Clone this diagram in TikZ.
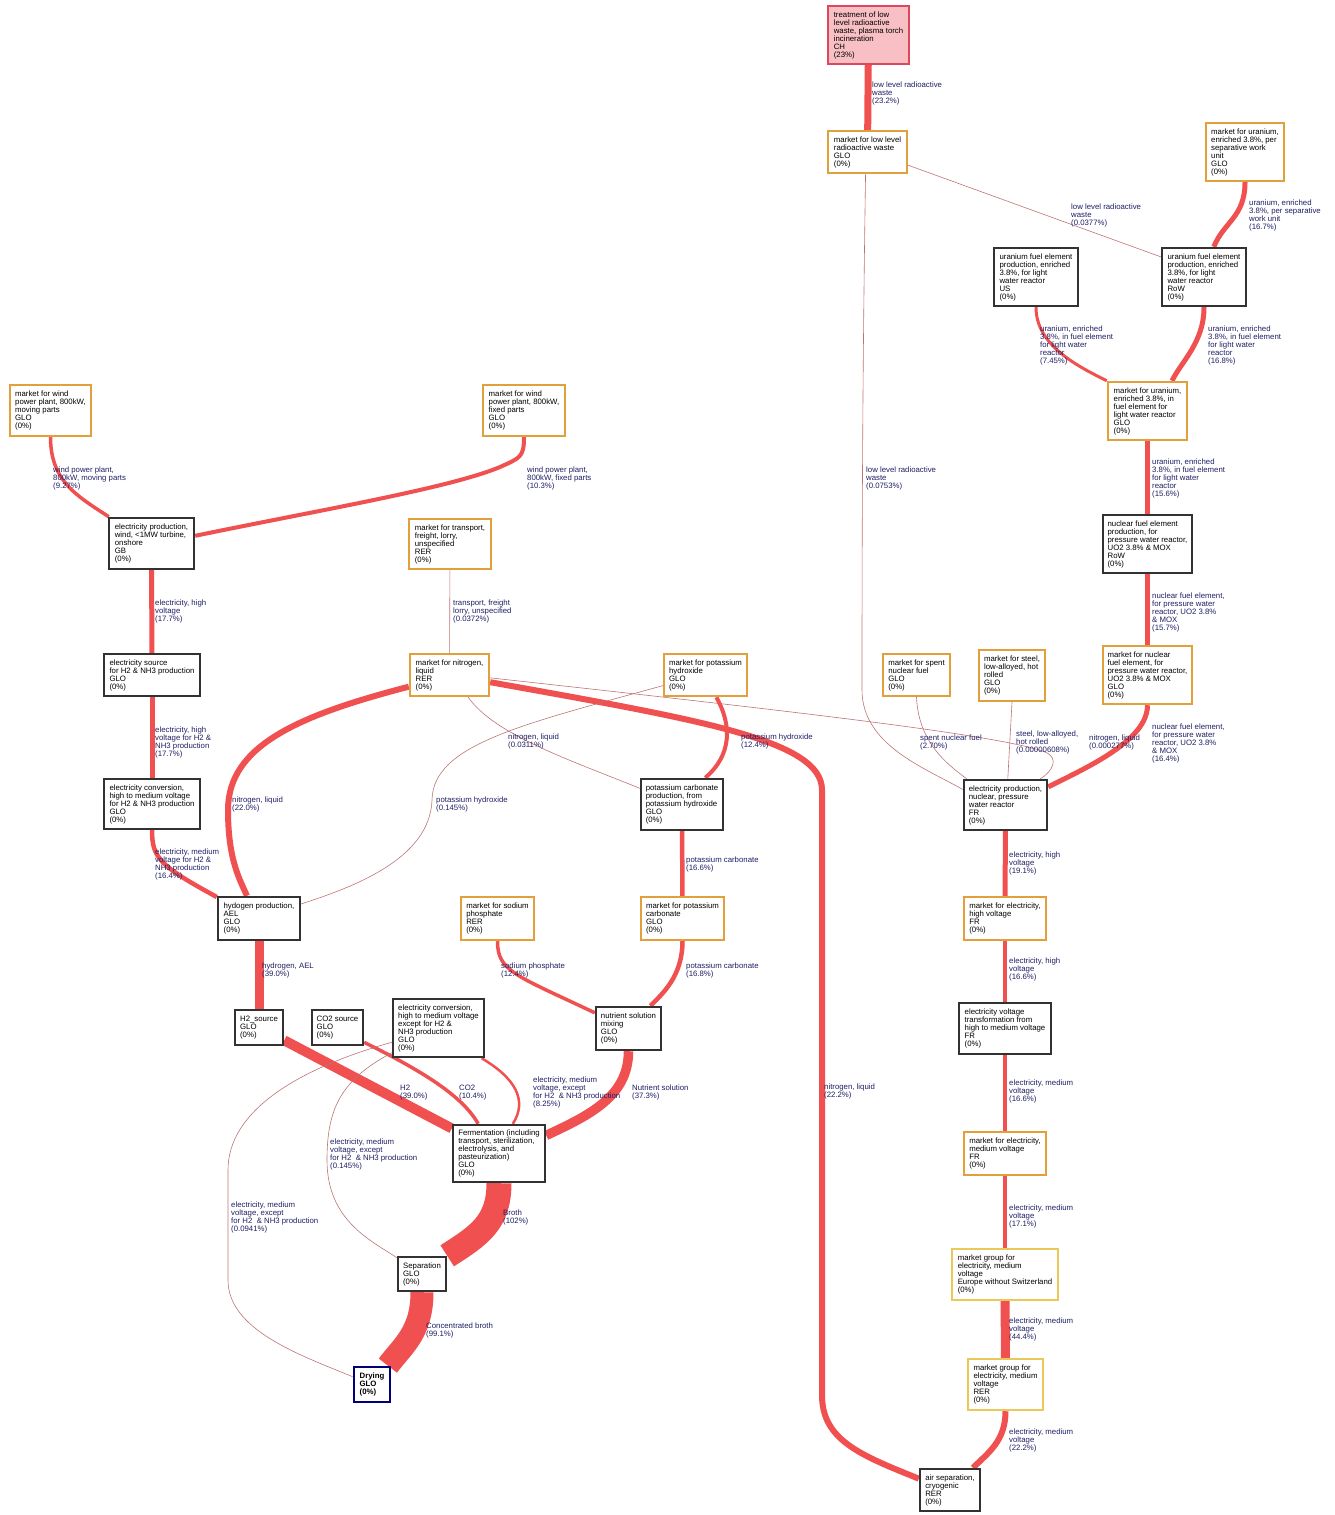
\documentclass[tikz,border=0pt]{standalone}
\usepackage{fontspec}
\setmainfont{Liberation Sans}
\usetikzlibrary{backgrounds}
\definecolor{flowred}{RGB}{240,80,80}
\definecolor{weakred}{RGB}{190,115,115}
\definecolor{lblblue}{RGB}{30,30,100}
\definecolor{actgray}{RGB}{50,50,50}
\definecolor{mktorange}{RGB}{225,160,60}
\definecolor{grpyellow}{RGB}{235,200,90}
\definecolor{treatfill}{RGB}{248,192,196}
\definecolor{treatdraw}{RGB}{222,72,92}
\definecolor{dryblue}{RGB}{0,0,120}

\begin{document}
\begin{tikzpicture}[x=1pt, y=-1pt,
  every node/.style={font=\fontsize{7.8}{8}\selectfont, align=left, inner sep=2pt},
  act/.style={draw=actgray, line width=2.4pt, fill=white},
  mkt/.style={draw=mktorange, line width=2.4pt, fill=white},
  grp/.style={draw=grpyellow, line width=2.4pt, fill=white},
  sz/.style 2 args={minimum width=#1pt, minimum height=#2pt},
  flow/.style={draw=flowred, line width=#1pt},
  weak/.style={draw=weakred, line width=0.6pt},
  lbl/.style={text=lblblue, anchor=north west, inner sep=0pt}]
\useasboundingbox (0,0) rectangle (1335,1515);

\node[act, fill=treatfill, draw=treatdraw, sz={81}{58}] (treat) at (868.5,35) {treatment of low\\level radioactive\\waste, plasma torch\\incineration\\CH\\(23\%)};
\node[mkt, sz={79}{42}] (mktLLRW) at (867.5,152) {market for low level\\radioactive waste\\GLO\\(0\%)};
\node[mkt, sz={78}{58}] (mktSWU) at (1245,152) {market for uranium,\\enriched 3.8\%, per\\separative work\\unit\\GLO\\(0\%)};
\node[act, sz={84}{58}] (ufeUS) at (1036,277) {uranium fuel element\\production, enriched\\3.8\%, for light\\water reactor\\US\\(0\%)};
\node[act, sz={84}{58}] (ufeRoW) at (1204,277) {uranium fuel element\\production, enriched\\3.8\%, for light\\water reactor\\RoW\\(0\%)};
\node[mkt, sz={79}{58}] (mktUfe) at (1147.5,411) {market for uranium,\\enriched 3.8\%, in\\fuel element for\\light water reactor\\GLO\\(0\%)};
\node[act, sz={89}{58}] (nfeRoW) at (1147.5,544) {nuclear fuel element\\production, for\\pressure water reactor,\\UO2 3.8\% \& MOX\\RoW\\(0\%)};
\node[mkt, sz={89}{58}] (mktNfe) at (1147.5,675) {market for nuclear\\fuel element, for\\pressure water reactor,\\UO2 3.8\% \& MOX\\GLO\\(0\%)};
\node[mkt, sz={67}{42}] (mktSpent) at (916.5,675) {market for spent\\nuclear fuel\\GLO\\(0\%)};
\node[mkt, sz={66}{51}] (mktSteel) at (1012,675.5) {market for steel,\\low-alloyed, hot\\rolled\\GLO\\(0\%)};
\node[act, sz={83}{50}] (elecNuc) at (1005.5,805) {electricity production,\\nuclear, pressure\\water reactor\\FR\\(0\%)};
\node[mkt, sz={82}{43}] (mktElHV) at (1005,918.5) {market for electricity,\\high voltage\\FR\\(0\%)};
\node[act, sz={92}{51}] (elTrans) at (1005,1028.5) {electricity voltage\\transformation from\\high to medium voltage\\FR\\(0\%)};
\node[mkt, sz={82}{43}] (mktElMV) at (1005,1153.5) {market for electricity,\\medium voltage\\FR\\(0\%)};
\node[grp, sz={106}{51}] (mgEu) at (1005,1274.5) {market group for\\electricity, medium\\voltage\\Europe without Switzerland\\(0\%)};
\node[grp, sz={75}{51}] (mgRER) at (1005.5,1384.5) {market group for\\electricity, medium\\voltage\\RER\\(0\%)};
\node[act, sz={60}{42}] (airSep) at (950,1490) {air separation,\\cryogenic\\RER\\(0\%)};

\node[mkt, sz={81}{51}] (mktWindM) at (50.5,410.5) {market for wind\\power plant, 800kW,\\moving parts\\GLO\\(0\%)};
\node[mkt, sz={82}{51}] (mktWindF) at (524,410.5) {market for wind\\power plant, 800kW,\\fixed parts\\GLO\\(0\%)};
\node[act, sz={85}{51}] (elWind) at (151.5,543.5) {electricity production,\\wind, <1MW turbine,\\onshore\\GB\\(0\%)};
\node[mkt, sz={82}{50}] (mktTrans) at (450,544) {market for transport,\\freight, lorry,\\unspecified\\RER\\(0\%)};
\node[act, sz={96}{42}] (elSrc) at (152,675) {electricity source\\for H2 \& NH3 production\\GLO\\(0\%)};
\node[mkt, sz={79}{42}] (mktN2) at (449.5,675) {market for nitrogen,\\liquid\\RER\\(0\%)};
\node[mkt, sz={83}{42}] (mktKOH) at (705.5,675) {market for potassium\\hydroxide\\GLO\\(0\%)};
\node[act, sz={96}{50}] (elConvH2) at (152,804) {electricity conversion,\\high to medium voltage\\for H2 \& NH3 production\\GLO\\(0\%)};
\node[act, sz={82}{51}] (K2CO3prod) at (682,804.5) {potassium carbonate\\production, from\\potassium hydroxide\\GLO\\(0\%)};
\node[act, sz={82}{43}] (H2prod) at (259,918.5) {hydogen production,\\AEL\\GLO\\(0\%)};
\node[mkt, sz={73}{43}] (mktNaP) at (497.5,918.5) {market for sodium\\phosphate\\RER\\(0\%)};
\node[mkt, sz={83}{43}] (mktK2CO3) at (682.5,918.5) {market for potassium\\carbonate\\GLO\\(0\%)};
\node[act, sz={48}{35}] (H2src) at (259,1027.5) {H2\_source\\GLO\\(0\%)};
\node[act, sz={51}{35}] (CO2src) at (337.5,1027.5) {CO2 source\\GLO\\(0\%)};
\node[act, sz={91}{58}] (elConvX) at (438.5,1028) {electricity conversion,\\high to medium voltage\\except for H2 \&\\NH3 production\\GLO\\(0\%)};
\node[act, sz={65}{43}] (nutMix) at (628.5,1028.5) {nutrient solution\\mixing\\GLO\\(0\%)};
\node[act, sz={92}{57}] (ferm) at (499,1153.5) {Fermentation (including\\transport, sterilization,\\electrolysis, and\\pasteurization)\\GLO\\(0\%)};
\node[act, sz={48}{34}] (sep) at (422,1274) {Separation\\GLO\\(0\%)};
\node[act, draw=dryblue, line width=2.8pt, sz={36}{35}, font=\fontsize{7.8}{8}\selectfont\bfseries] (drying) at (372,1384.5) {Drying\\GLO\\(0\%)};

\begin{scope}[on background layer]
\draw[flow=7] (treat) -- (mktLLRW);
\draw[weak] (mktLLRW.-18) -- (ufeRoW.155);
\draw[weak] (mktLLRW.-95) .. controls (862,400) and (862,600) .. (862,690) .. controls (862,745) and (925,768) .. (elecNuc.160);
\draw[flow=5] (mktSWU.south) .. controls +(0,35) and +(10,-25) .. (ufeRoW.72);
\draw[flow=3] (ufeUS.south) .. controls +(0,38) and +(-30,-15) .. (mktUfe.north west);
\draw[flow=5] (ufeRoW.south) .. controls +(0,35) and +(10,-20) .. (mktUfe.51);
\draw[flow=4.5] (mktUfe) -- (nfeRoW);
\draw[flow=4.5] (nfeRoW) -- (mktNfe);
\draw[flow=5] (mktNfe.south) .. controls +(0,35) and +(40,-20) .. (elecNuc.23);
\draw[weak] (mktSpent.south) .. controls +(2,45) and +(-20,-15) .. (elecNuc.146);
\draw[weak] (mktSteel.south) -- (elecNuc.85);
\draw[weak] (mktN2.-4) .. controls (800,712) and (1000,735) .. (1045,752) .. controls (1060,758) and (1052,772) .. (elecNuc.37);
\draw[flow=5] (elecNuc) -- (mktElHV);
\draw[flow=4.5] (mktElHV) -- (elTrans);
\draw[flow=4.5] (elTrans) -- (mktElMV);
\draw[flow=4.5] (mktElMV) -- (mgEu);
\draw[flow=9] (mgEu) -- (mgRER);
\draw[flow=6] (mgRER.south) .. controls +(0,30) and +(15,-15) .. (airSep.44);
\draw[flow=6] (airSep.160) .. controls (860,1455) and (822,1440) .. (822,1395) -- (822,790) .. controls (822,740) and (700,720) .. (mktN2.-10);
\draw[flow=6] (mktN2.196) .. controls (300,715) and (228,745) .. (228,810) .. controls (228,860) and (240,880) .. (H2prod.118);
\draw[weak] (mktN2.-50) .. controls (495,735) and (570,760) .. (K2CO3prod.159);
\draw[flow=4] (mktKOH.-64) .. controls (732,725) and (732,755) .. (K2CO3prod.49);
\draw[weak] (mktKOH.194) .. controls (520,725) and (433,745) .. (432,800) .. controls (430,860) and (350,888) .. (H2prod.19);
\draw[weak] (mktTrans) -- (mktN2);
\draw[flow=3.5] (mktWindM.south) .. controls +(0,45) and +(-30,-20) .. (elWind.148);
\draw[flow=4] (mktWindF.south) .. controls +(0,20) and (520,458) .. (500,467) .. controls (450,488) and (320,510) .. (elWind.10);
\draw[flow=5] (elWind) -- (elSrc);
\draw[flow=5] (elSrc) -- (elConvH2);
\draw[flow=4.5] (elConvH2.south) .. controls +(0,28) and (160,866) .. (H2prod.153);
\draw[flow=4.5] (K2CO3prod) -- (mktK2CO3);
\draw[flow=4.5] (mktK2CO3.south) .. controls +(0,35) and +(12,-12) .. (nutMix.46);
\draw[flow=3.5] (mktNaP.south) .. controls +(0,30) and (515,975) .. (nutMix.155);
\draw[flow=9] (H2prod) -- (H2src);
\draw[flow=10] (H2src.-27) -- (ferm.152);
\draw[flow=3.5] (CO2src.-29) .. controls (420,1070) and (462,1095) .. (ferm.125);
\draw[flow=2.5] (elConvX.-35) .. controls (515,1078) and (528,1100) .. (ferm.65);
\draw[flow=9.5] (nutMix.south) .. controls +(0,45) and (590,1115) .. (ferm.21);
\draw[weak] (elConvX.208) .. controls (340,1080) and (327,1110) .. (327,1160) .. controls (327,1220) and (370,1240) .. (sep.147);
\draw[weak] (elConvX.197) .. controls (300,1068) and (228,1110) .. (228,1170) -- (228,1280) .. controls (228,1330) and (300,1355) .. (drying.158);
\draw[flow=25] (ferm.south) .. controls +(0,40) and (478,1236) .. (sep.north east);
\draw[flow=23] (sep.south) .. controls +(0,40) and +(15,-20) .. (drying.50);
\end{scope}

\node[lbl] (tWasteA) at (872,82) {low level radioactive\\waste\\(23.2\%)};
\node[lbl] (tWasteB) at (1071,204) {low level radioactive\\waste\\(0.0377\%)};
\node[lbl] (tWasteC) at (866,467) {low level radioactive\\waste\\(0.0753\%)};
\node[lbl] (tSWU) at (1249,200) {uranium, enriched\\3.8\%, per separative\\work unit\\(16.7\%)};
\node[lbl] (tUfeA) at (1040,326) {uranium, enriched\\3.8\%, in fuel element\\for light water\\reactor\\(7.45\%)};
\node[lbl] (tUfeB) at (1208,326) {uranium, enriched\\3.8\%, in fuel element\\for light water\\reactor\\(16.8\%)};
\node[lbl] (tUfeC) at (1152,459) {uranium, enriched\\3.8\%, in fuel element\\for light water\\reactor\\(15.6\%)};
\node[lbl] (tNfeA) at (1152,593) {nuclear fuel element,\\for pressure water\\reactor, UO2 3.8\%\\\& MOX\\(15.7\%)};
\node[lbl] (tNfeB) at (1152,724) {nuclear fuel element,\\for pressure water\\reactor, UO2 3.8\%\\\& MOX\\(16.4\%)};
\node[lbl] (tSpent) at (920,735) {spent nuclear fuel\\(2.70\%)};
\node[lbl] (tSteel) at (1016,731) {steel, low-alloyed,\\hot rolled\\(0.00000608\%)};
\node[lbl] (tN2nuc) at (1089,735) {nitrogen, liquid\\(0.000277\%)};
\node[lbl] (tElA) at (1009,852) {electricity, high\\voltage\\(19.1\%)};
\node[lbl] (tElB) at (1009,958) {electricity, high\\voltage\\(16.6\%)};
\node[lbl] (tElC) at (1009,1080) {electricity, medium\\voltage\\(16.6\%)};
\node[lbl] (tElD) at (1009,1205) {electricity, medium\\voltage\\(17.1\%)};
\node[lbl] (tElE) at (1009,1318) {electricity, medium\\voltage\\(44.4\%)};
\node[lbl] (tElF) at (1009,1429) {electricity, medium\\voltage\\(22.2\%)};
\node[lbl] (tN2air) at (824,1084) {nitrogen, liquid\\(22.2\%)};
\node[lbl] (tWindM) at (53,467) {wind power plant,\\800kW, moving parts\\(9.27\%)};
\node[lbl] (tWindF) at (527,467) {wind power plant,\\800kW, fixed parts\\(10.3\%)};
\node[lbl] (tTrans) at (453,600) {transport, freight\\lorry, unspecified\\(0.0372\%)};
\node[lbl] (tWindEl) at (155,600) {electricity, high\\voltage\\(17.7\%)};
\node[lbl] (tSrcEl) at (155,727) {electricity, high\\voltage for H2 \&\\NH3 production\\(17.7\%)};
\node[lbl] (tConvEl) at (155,849) {electricity, medium\\voltage for H2 \&\\NH3 production\\(16.4\%)};
\node[lbl] (tN2H2) at (232,797) {nitrogen, liquid\\(22.0\%)};
\node[lbl] (tKOHa) at (436,797) {potassium hydroxide\\(0.145\%)};
\node[lbl] (tN2K) at (508,734) {nitrogen, liquid\\(0.0311\%)};
\node[lbl] (tKOHb) at (741,734) {potassium hydroxide\\(12.4\%)};
\node[lbl] (tK2CO3a) at (686,857) {potassium carbonate\\(16.6\%)};
\node[lbl] (tK2CO3b) at (686,963) {potassium carbonate\\(16.8\%)};
\node[lbl] (tNaP) at (501,963) {sodium phosphate\\(12.4\%)};
\node[lbl] (tAEL) at (262,963) {hydrogen, AEL\\(39.0\%)};
\node[lbl] (tH2) at (400,1085) {H2\\(39.0\%)};
\node[lbl] (tCO2) at (459,1085) {CO2\\(10.4\%)};
\node[lbl] (tElXa) at (533,1077) {electricity, medium\\voltage, except\\for H2~ \& NH3 production\\(8.25\%)};
\node[lbl] (tNut) at (632,1085) {Nutrient solution\\(37.3\%)};
\node[lbl] (tElXb) at (330,1139) {electricity, medium\\voltage, except\\for H2~ \& NH3 production\\(0.145\%)};
\node[lbl] (tElXc) at (231,1202) {electricity, medium\\voltage, except\\for H2~ \& NH3 production\\(0.0941\%)};
\node[lbl] (tBroth) at (503,1210) {Broth\\(102\%)};
\node[lbl] (tConc) at (426,1323) {Concentrated broth\\(99.1\%)};
\end{tikzpicture}
\end{document}
